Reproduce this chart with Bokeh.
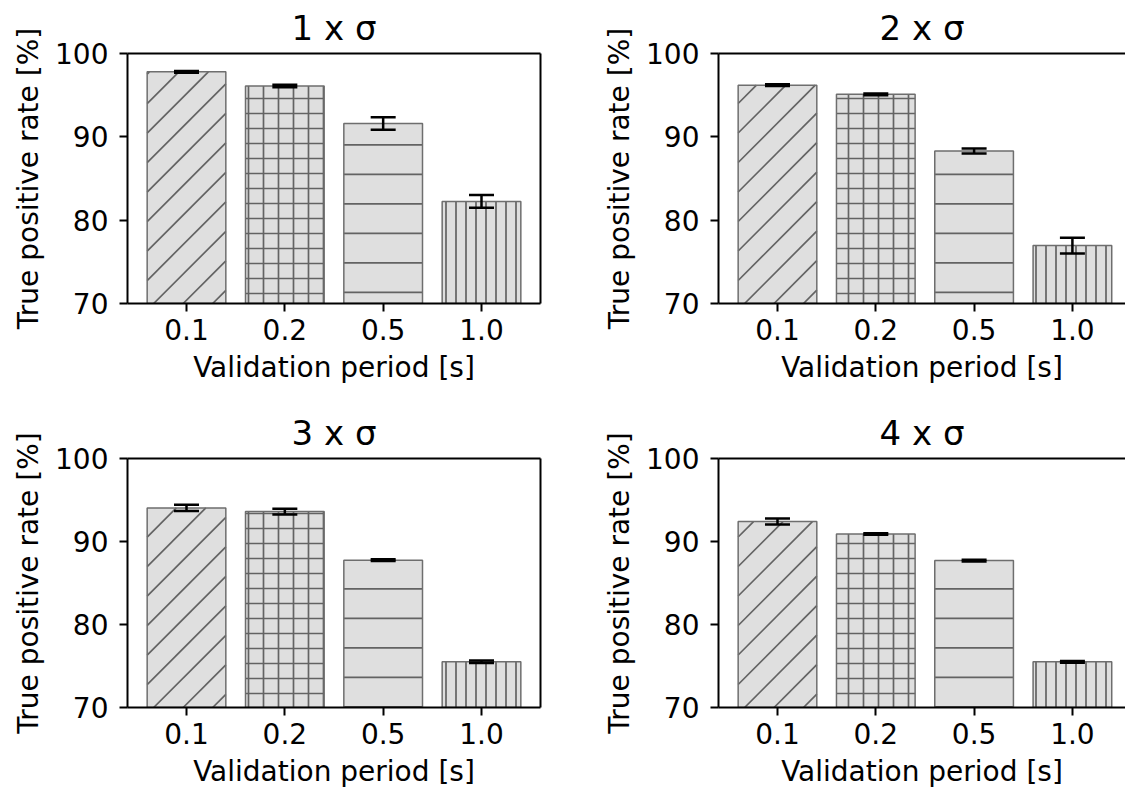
import math
from bokeh.plotting import figure
from bokeh.models import (ColumnDataSource, Range1d, FixedTicker, LinearAxis,
                          Whisker, TeeHead)
from bokeh.layouts import column, row
from bokeh.embed import file_html
from bokeh.resources import INLINE

# ---------------- data ----------------
periods = ["0.1", "0.2", "0.5", "1.0"]
titles = ["1 x σ", "2 x σ", "3 x σ", "4 x σ"]

tpr_1 = [97.8, 96.1, 91.6, 82.25]
err_1 = [0.1, 0.15, 0.75, 0.76]

tpr_2 = [96.2, 95.1, 88.3, 76.95]
err_2 = [0.1, 0.1, 0.3, 0.95]

tpr_3 = [94.05, 93.6, 87.75, 75.5]
err_3 = [0.38, 0.35, 0.1, 0.15]

tpr_4 = [92.4, 90.9, 87.7, 75.5]
err_4 = [0.36, 0.1, 0.1, 0.1]

y_ticks = [70, 80, 90, 100]
x_label = "Validation period [s]"
y_label = "True positive rate [%]"

# ---------------- style ----------------
FONT = "DejaVu Sans"
TICK_FS = "28px"
LABEL_FS = "28px"
TITLE_FS = "34px"
# bars 1 and 3 get hatching drawn as clipped segments (45° and horizontal)
HATCHES = [" ", "+", " ", "|"]
HATCH_SCALES = [29, 15, 29, 10]
HATCH_STEP = 29.5   # px between diagonal / horizontal hatch lines
BAR_W = 0.8
FILL = "#dfdfdf"
EDGE = "#6e6e6e"
HATCH_COLOR = "#636363"
HATCH_W = 1.7
Y0, Y1 = 70, 100


def style_axis(ax):
    ax.axis_line_width = 2
    ax.axis_line_color = "black"
    ax.major_tick_line_width = 2
    ax.major_tick_line_color = "black"
    ax.major_tick_in = 0
    ax.major_tick_out = 8
    ax.minor_tick_line_color = None
    ax.major_label_text_font = FONT
    ax.major_label_text_font_size = TICK_FS
    ax.major_label_text_color = "black"
    ax.axis_label_text_font = FONT
    ax.axis_label_text_font_size = LABEL_FS
    ax.axis_label_text_font_style = "normal"
    ax.axis_label_text_color = "black"


def spine(ax):
    ax.ticker = FixedTicker(ticks=[])
    ax.axis_line_width = 2
    ax.axis_line_color = "black"
    ax.major_tick_line_color = None
    ax.minor_tick_line_color = None
    ax.major_tick_out = 0
    ax.major_tick_in = 0
    ax.major_label_text_font_size = "0px"
    ax.major_label_standoff = 0


def diag_segments(xc, top, x_start, sx, sy, phase):
    """45-degree (screen) hatch lines clipped to the bar rectangle."""
    X0 = (xc - BAR_W / 2 - x_start) * sx
    X1 = (xc + BAR_W / 2 - x_start) * sx
    Yt = (top - Y0) * sy
    out = ([], [], [], [])
    kmin = math.floor((X0 - Yt - phase) / HATCH_STEP) - 1
    kmax = math.ceil((X1 - phase) / HATCH_STEP) + 1
    for k in range(kmin, kmax + 1):
        c = phase + k * HATCH_STEP
        ya = max(0.0, X0 - c)
        yb = min(Yt, X1 - c)
        if yb - ya > 0.5:
            out[0].append((ya + c) / sx + x_start)
            out[1].append(ya / sy + Y0)
            out[2].append((yb + c) / sx + x_start)
            out[3].append(yb / sy + Y0)
    return out


def horiz_segments(xc, top, sy, phase):
    """Horizontal hatch lines inside the bar."""
    Yt = (top - Y0) * sy
    out = ([], [], [], [])
    k = 0
    while phase + k * HATCH_STEP < Yt - 1:
        y = (phase + k * HATCH_STEP) / sy + Y0
        out[0].append(xc - BAR_W / 2)
        out[1].append(y)
        out[2].append(xc + BAR_W / 2)
        out[3].append(y)
        k += 1
    return out


def make_panel(title, vals, errs, col_i, row_i):
    x_start = -0.6
    x_end = 3.6 if col_i == 0 else 3.54
    if col_i == 0:
        width, mbl, mbr = 600, 127, 60
    else:
        width, mbl, mbr = 525, 117, 0
    if row_i == 0:
        height, mbt, mbb = 400, 53, 97
        h_phase = 11.2
    else:
        height, mbt, mbb = 394, 58, 87
        h_phase = 0.6
    frame_w = width - mbl - mbr
    frame_h = height - mbt - mbb
    sx = frame_w / (x_end - x_start)
    sy = frame_h / (Y1 - Y0)

    p = figure(width=width, height=height, output_backend="svg",
               toolbar_location=None, x_range=Range1d(x_start, x_end),
               y_range=Range1d(Y0, Y1), min_border_left=mbl,
               min_border_right=mbr, min_border_top=mbt,
               min_border_bottom=mbb)
    p.outline_line_color = None
    p.xgrid.visible = False
    p.ygrid.visible = False
    p.background_fill_color = "white"
    p.border_fill_color = "white"

    xs = list(range(len(periods)))
    src = ColumnDataSource(dict(
        x=xs, top=vals,
        upper=[v + e for v, e in zip(vals, errs)],
        lower=[v - e for v, e in zip(vals, errs)],
        hatch=HATCHES, hscale=HATCH_SCALES,
    ))
    p.vbar(x="x", top="top", bottom=Y0, width=BAR_W, source=src,
           fill_color=FILL, line_color=None,
           hatch_pattern="hatch", hatch_scale="hscale",
           hatch_color=HATCH_COLOR, hatch_weight=HATCH_W)

    # diagonal hatching of the first bar
    d = diag_segments(xs[0], vals[0], x_start, sx, sy, -3.3)
    p.segment(x0=d[0], y0=d[1], x1=d[2], y1=d[3], line_color=HATCH_COLOR,
              line_width=HATCH_W)
    # horizontal hatching of the third bar
    h = horiz_segments(xs[2], vals[2], sy, h_phase)
    p.segment(x0=h[0], y0=h[1], x1=h[2], y1=h[3], line_color=HATCH_COLOR,
              line_width=HATCH_W)

    # bar outlines on top of hatching
    p.vbar(x="x", top="top", bottom=Y0, width=BAR_W, source=src,
           fill_color=None, line_color=EDGE, line_width=1.5)

    wh = Whisker(source=src, base="x", upper="upper", lower="lower",
                 line_color="black", line_width=2.5, level="overlay",
                 upper_head=TeeHead(size=25, line_width=2.5, line_color="black"),
                 lower_head=TeeHead(size=25, line_width=2.5, line_color="black"))
    p.add_layout(wh)

    xa = p.xaxis[0]
    ya = p.yaxis[0]
    style_axis(xa)
    style_axis(ya)
    xa.ticker = FixedTicker(ticks=xs)
    xa.major_label_overrides = {i: s for i, s in enumerate(periods)}
    xa.major_label_standoff = 7
    xa.axis_label = x_label
    xa.axis_label_standoff = 8
    ya.ticker = FixedTicker(ticks=y_ticks)
    ya.major_label_standoff = 11
    ya.axis_label = y_label
    ya.axis_label_standoff = 7

    top_ax = LinearAxis()
    spine(top_ax)
    p.add_layout(top_ax, "above")
    if col_i == 0:
        right_ax = LinearAxis()
        spine(right_ax)
        p.add_layout(right_ax, "right")

    p.title.text = title
    p.title.text_font = FONT
    p.title.text_font_size = TITLE_FS
    p.title.text_font_style = "normal"
    p.title.text_color = "black"
    p.title.align = "center"
    p.title.standoff = 11
    return p


panels = []
all_vals = [(tpr_1, err_1), (tpr_2, err_2), (tpr_3, err_3), (tpr_4, err_4)]
for k, (v, e) in enumerate(all_vals):
    panels.append(make_panel(titles[k], v, e, k % 2, k // 2))

layout = column(row(panels[0], panels[1]), row(panels[2], panels[3]))

open("out.html", "w").write(file_html(layout, INLINE))
